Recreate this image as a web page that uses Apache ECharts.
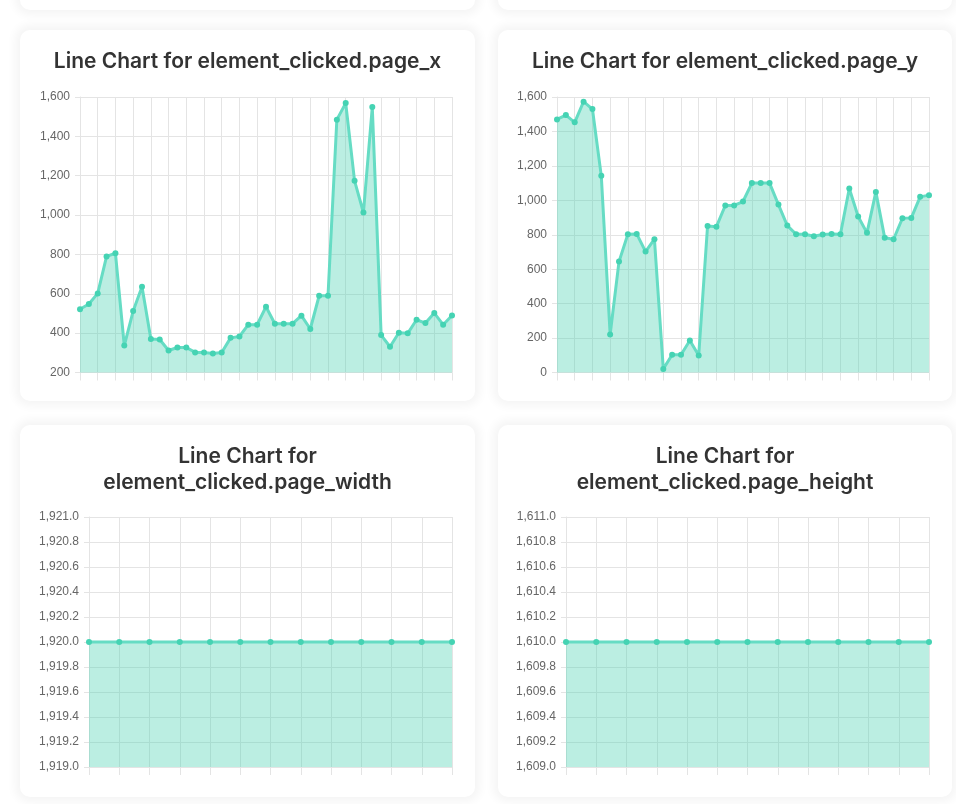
<!DOCTYPE html>
<html>
<head>
<meta charset="utf-8">
<script src="https://cdn.jsdelivr.net/npm/echarts@6/dist/echarts.min.js"></script>
<style>
  html, body { margin: 0; padding: 0; background: #ffffff; width: 956px; height: 804px; overflow: hidden; }
  .card { position: absolute; background: #fff; border-radius: 10px;
          box-shadow: 0 0 10px 5px rgba(0,0,0,0.045); }
</style>
</head>
<body>
<div class="card" style="left:20px; top:-361px; width:455px; height:371px;"></div>
<div class="card" style="left:498px; top:-361px; width:454px; height:371px;"></div>
<div class="card" id="c1" style="left:20px; top:30px; width:455px; height:371px;"></div>
<div class="card" id="c2" style="left:498px; top:30px; width:454px; height:371px;"></div>
<div class="card" id="c3" style="left:20px; top:425px; width:455px; height:372px;"></div>
<div class="card" id="c4" style="left:498px; top:425px; width:454px; height:372px;"></div>
<script>
// ---- data ----
const topCategories = ['1','2','3','4','5','6','7','8','9','10','11','12','13','14','15','16','17','18','19','20','21','22','23','24','25','26','27','28','29','30','31','32','33','34','35','36','37','38','39','40','41','42','43'];
const pageXValues = [521, 548, 602, 790, 806, 337, 512, 636, 370, 368, 312, 327, 327, 302, 302, 297, 302, 376, 383, 443,
                     443, 534, 448, 448, 448, 489, 421, 590, 590, 1485, 1569, 1174, 1013, 1549, 390, 331, 402, 399, 468, 451,
                     502, 443, 490];
const pageYValues = [1470, 1495, 1453, 1573, 1530, 1142, 221, 644, 803, 805, 702, 774, 21, 103, 103, 186, 99, 851, 847, 970,
                     970, 993, 1100, 1100, 1100, 975, 853, 803, 803, 791, 801, 805, 803, 1069, 906, 811, 1049, 782, 774, 896,
                     898, 1020, 1030];
const bottomCategories = ['1','2','3','4','5','6','7','8','9','10','11','12','13'];
const pageWidthValues = [1920, 1920, 1920, 1920, 1920, 1920, 1920, 1920, 1920, 1920, 1920, 1920, 1920];
const pageHeightValues = [1610, 1610, 1610, 1610, 1610, 1610, 1610, 1610, 1610, 1610, 1610, 1610, 1610];

const titles = [
  'Line Chart for element_clicked.page_x',
  'Line Chart for element_clicked.page_y',
  'Line Chart for\nelement_clicked.page_width',
  'Line Chart for\nelement_clicked.page_height'
];

const GRID = '#e4e4e4';
const LINE = '#66dcc4';
const POINT = '#45d3b3';
const FILL = 'rgba(75, 210, 180, 0.38)';

function fmtInt(v) { return Math.round(v).toLocaleString('en-US'); }
function fmt1(v) { return Number(v).toLocaleString('en-US', {minimumFractionDigits: 1, maximumFractionDigits: 1}); }

function makeChart(id, title, cats, values, yMin, yMax, yInt, formatter, grid) {
  const chart = echarts.init(document.getElementById(id), null, {renderer: 'canvas'});
  chart.setOption({
    animation: false,
    title: {
      text: title, left: 'center', top: 14,
      textStyle: { fontFamily: 'Inter, "Liberation Sans", sans-serif', fontSize: 21, fontWeight: 600, color: '#333', lineHeight: 26 }
    },
    grid: grid,
    xAxis: {
      type: 'category', data: cats, boundaryGap: false,
      axisLine: { show: true, lineStyle: { color: GRID, width: 1 } },
      axisTick: { show: true, length: 8, lineStyle: { color: GRID } },
      axisLabel: { show: false },
      splitLine: { show: true, lineStyle: { color: GRID, width: 1 } }
    },
    yAxis: {
      type: 'value', min: yMin, max: yMax, interval: yInt,
      axisLine: { show: true, lineStyle: { color: GRID, width: 1 } },
      axisTick: { show: true, length: 5, lineStyle: { color: GRID } },
      axisLabel: { show: true, color: '#666', fontSize: 12, margin: 10,
                   fontFamily: '"Liberation Sans", Arial, sans-serif', formatter: formatter },
      splitLine: { show: true, lineStyle: { color: GRID, width: 1 } }
    },
    series: [{
      type: 'line', data: values,
      symbol: 'circle', symbolSize: 6, showSymbol: true, showAllSymbol: true,
      lineStyle: { color: LINE, width: 3 },
      itemStyle: { color: POINT },
      areaStyle: { color: FILL, opacity: 1, origin: 'start' }
    }]
  });
}

makeChart('c1', titles[0], topCategories, pageXValues, 200, 1600, 200, fmtInt,
          { left: 60, right: 23, top: 67, bottom: 28.5 });
makeChart('c2', titles[1], topCategories, pageYValues, 0, 1600, 200, fmtInt,
          { left: 59, right: 23, top: 67, bottom: 28.5 });
makeChart('c3', titles[2], bottomCategories, pageWidthValues, 1919, 1921, 0.2, fmt1,
          { left: 69, right: 23, top: 92, bottom: 30 });
makeChart('c4', titles[3], bottomCategories, pageHeightValues, 1609, 1611, 0.2, fmt1,
          { left: 68, right: 23, top: 92, bottom: 30 });
</script>
</body>
</html>
